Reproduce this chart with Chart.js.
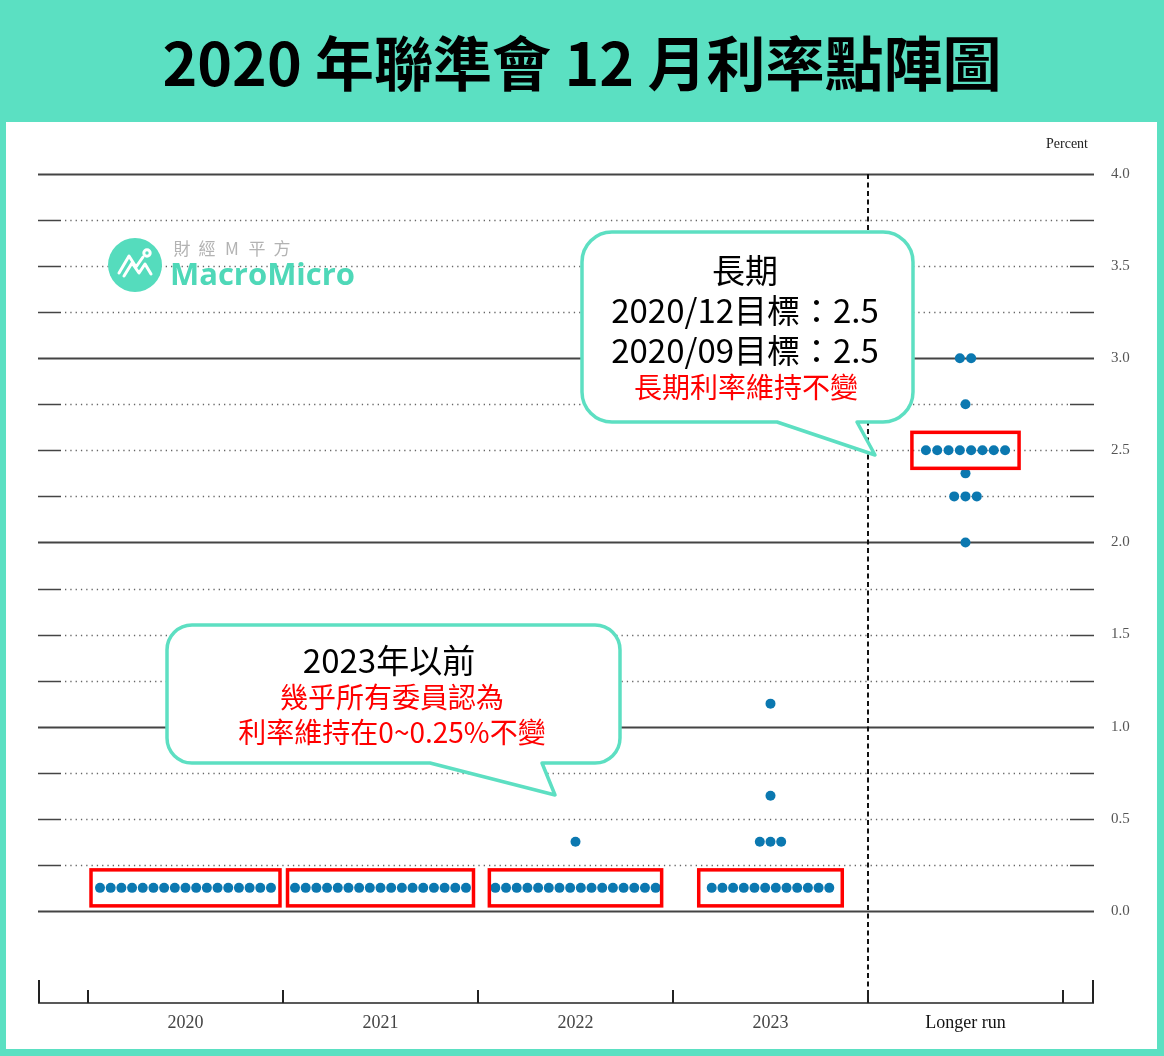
<!DOCTYPE html>
<html>
<head>
<meta charset="utf-8">
<script src="https://cdn.jsdelivr.net/npm/chart.js@4.4.0/dist/chart.umd.min.js"></script>
<style>
  html, body { margin: 0; padding: 0; }
  body { width: 1164px; height: 1056px; background: #5be0c2; position: relative; overflow: hidden; }
  #title {
    position: absolute; left: 0; top: 0; width: 1164px; height: 122px;
    font-family: "Noto Sans CJK TC", "Noto Sans", sans-serif; font-weight: 700;
    font-size: 59px; line-height: 122px; text-align: center; color: #000;
  }
  #panel { position: absolute; left: 6px; top: 122px; width: 1151px; height: 927px; background: #fff; }
  #panel canvas { display: block; }
</style>
</head>
<body>
<div id="title">2020 年聯準會 12 月利率點陣圖</div>
<div id="panel"><canvas id="dotChart" width="1151" height="927"></canvas></div>
<script>
// 점도표 데이터 (각 연도별 금리 수준과 위원 수)
const categories = ['2020', '2021', '2022', '2023', 'Longer run'];
const rateLevels = [
  [0.125],
  [0.125],
  [0.125, 0.375],
  [0.125, 0.375, 0.625, 1.125],
  [2.0, 2.25, 2.375, 2.5, 2.75, 3.0]
];
const dotCounts = [
  [17],
  [17],
  [16, 1],
  [12, 3, 1, 1],
  [1, 3, 1, 8, 1, 2]
];
const yTickValues = [0, 0.5, 1.0, 1.5, 2.0, 2.5, 3.0, 3.5, 4.0];

// 점 간격 (x축 단위)
const dotGap = [0.0548, 0.0548, 0.0548, 0.0548, 0.058];

const points = [];
categories.forEach((cat, i) => {
  rateLevels[i].forEach((rate, j) => {
    const n = dotCounts[i][j];
    for (let k = 0; k < n; k++) {
      points.push({ x: i + (k - (n - 1) / 2) * dotGap[i], y: rate });
    }
  });
});

const TEAL = '#5ddfc2';
const DOT = '#0b78b0';

// 빨간 박스 (카테고리, 금리, 바깥 점 중심에서의 여백)
const redBoxes = [
  { cat: 0, rate: 0.125, pad: 9 },
  { cat: 1, rate: 0.125, pad: 7.5 },
  { cat: 2, rate: 0.125, pad: 6 },
  { cat: 3, rate: 0.125, pad: 13 },
  { cat: 4, rate: 2.5, pad: 14 }
];

function roundBubble(ctx, x, y, w, h, r, t1, t2, tipX, tipY) {
  ctx.beginPath();
  ctx.moveTo(x + r, y);
  ctx.lineTo(x + w - r, y);
  ctx.arcTo(x + w, y, x + w, y + r, r);
  ctx.lineTo(x + w, y + h - r);
  ctx.arcTo(x + w, y + h, x + w - r, y + h, r);
  ctx.lineTo(t2, y + h);
  ctx.lineTo(tipX, tipY);
  ctx.lineTo(t1, y + h);
  ctx.lineTo(x + r, y + h);
  ctx.arcTo(x, y + h, x, y + h - r, r);
  ctx.lineTo(x, y + r);
  ctx.arcTo(x, y, x + r, y, r);
  ctx.closePath();
  ctx.fillStyle = '#fff';
  ctx.fill();
  ctx.lineWidth = 3.5;
  ctx.strokeStyle = TEAL;
  ctx.stroke();
}

const backdropPlugin = {
  id: 'backdrop',
  beforeDatasetsDraw(chart) {
    const { ctx, chartArea: a, scales: { x, y } } = chart;
    ctx.save();
    // 가로 격자선
    y.ticks.forEach(t => {
      if (t.value < 0) return;
      const py = Math.round(y.getPixelForValue(t.value)) + 0.5;
      const whole = Math.abs(t.value - Math.round(t.value)) < 1e-6;
      ctx.setLineDash([]);
      ctx.strokeStyle = '#444';
      ctx.lineWidth = whole ? 1.8 : 1.4;
      ctx.beginPath();
      ctx.moveTo(a.left, py); ctx.lineTo(a.left + 23, py);
      ctx.moveTo(a.right - 24, py); ctx.lineTo(a.right, py);
      ctx.stroke();
      ctx.beginPath();
      if (whole) {
        ctx.moveTo(a.left + 23, py); ctx.lineTo(a.right - 24, py);
      } else {
        ctx.setLineDash([1.3, 4]);
        ctx.strokeStyle = '#666';
        ctx.lineWidth = 1.3;
        ctx.moveTo(a.left + 27, py); ctx.lineTo(a.right - 26, py);
      }
      ctx.stroke();
    });
    // 장기 구분 점선
    const dx = x.getPixelForValue(categories.length - 1.5);
    ctx.setLineDash([5, 3.5]);
    ctx.strokeStyle = '#111';
    ctx.lineWidth = 2;
    ctx.beginPath();
    ctx.moveTo(dx, a.top); ctx.lineTo(dx, a.bottom);
    ctx.stroke();
    // 하단 축
    ctx.setLineDash([]);
    ctx.strokeStyle = '#222';
    ctx.lineWidth = 1.6;
    ctx.beginPath();
    ctx.moveTo(a.left, a.bottom); ctx.lineTo(a.right, a.bottom);
    ctx.stroke();
    ctx.lineWidth = 2;
    ctx.beginPath();
    for (let i = 0; i <= categories.length; i++) {
      const px = x.getPixelForValue(i - 0.5);
      ctx.moveTo(px, a.bottom); ctx.lineTo(px, a.bottom - 13);
    }
    ctx.moveTo(a.left + 1, a.bottom); ctx.lineTo(a.left + 1, a.bottom - 23);
    ctx.moveTo(a.right - 1, a.bottom); ctx.lineTo(a.right - 1, a.bottom - 23);
    ctx.stroke();
    // Percent
    ctx.fillStyle = '#222';
    ctx.font = '14px "Liberation Serif", serif';
    ctx.textAlign = 'center';
    ctx.textBaseline = 'middle';
    ctx.fillText('Percent', a.right - 27, 22);
    ctx.restore();
  },
  afterDatasetsDraw(chart) {
    const { ctx, scales: { x, y } } = chart;
    ctx.save();
    ctx.strokeStyle = '#ff0000';
    ctx.lineWidth = 3.5;
    redBoxes.forEach(b => {
      const j = rateLevels[b.cat].indexOf(b.rate);
      const n = dotCounts[b.cat][j];
      const half = (n - 1) / 2 * dotGap[b.cat];
      const x0 = x.getPixelForValue(b.cat - half) - b.pad;
      const x1 = x.getPixelForValue(b.cat + half) + b.pad;
      const cy = y.getPixelForValue(b.rate);
      ctx.strokeRect(x0, cy - 18, x1 - x0, 36);
    });
    ctx.restore();
  },
  afterDraw(chart) {
    const { ctx } = chart;
    ctx.save();
    // 로고
    ctx.fillStyle = '#55dcbd';
    ctx.beginPath();
    ctx.arc(129, 143, 27, 0, Math.PI * 2);
    ctx.fill();
    ctx.strokeStyle = '#fff';
    ctx.lineWidth = 3;
    ctx.lineJoin = 'round';
    ctx.lineCap = 'round';
    ctx.beginPath();
    ctx.moveTo(113, 151); ctx.lineTo(123, 134); ctx.lineTo(130, 145); ctx.lineTo(137, 135);
    ctx.moveTo(118, 154); ctx.lineTo(126, 141); ctx.lineTo(133, 151); ctx.lineTo(139, 142); ctx.lineTo(145, 152);
    ctx.stroke();
    ctx.beginPath();
    ctx.arc(141, 131, 3.2, 0, Math.PI * 2);
    ctx.stroke();
    ctx.fillStyle = '#b3b3b3';
    ctx.font = '17px "Noto Sans CJK TC", sans-serif';
    ctx.textAlign = 'center';
    ctx.textBaseline = 'middle';
    ['財', '經', 'M', '平', '方'].forEach((c, i) => ctx.fillText(c, 176 + i * 25, 127));
    ctx.font = 'bold 30px "Open Sans", sans-serif';
    const w = ctx.measureText('MacroMicro').width;
    ctx.save();
    ctx.translate(164, 154);
    ctx.scale(185 / w, 1);
    ctx.textAlign = 'left';
    ctx.fillStyle = '#4fd8b8';
    ctx.fillText('MacroMicro', 0, 0);
    ctx.restore();

    // 말풍선 1 (장기)
    roundBubble(ctx, 576, 110, 331, 190, 30, 771, 851, 869, 333);
    ctx.textAlign = 'center';
    ctx.textBaseline = 'middle';
    ctx.fillStyle = '#000';
    ctx.font = '33px "Noto Sans CJK TC", sans-serif';
    ctx.fillText('長期', 739, 148);
    ctx.fillText('2020/12目標：2.5', 739, 188);
    ctx.fillText('2020/09目標：2.5', 739, 228);
    ctx.fillStyle = '#ff0000';
    ctx.font = '28px "Noto Sans CJK TC", sans-serif';
    ctx.fillText('長期利率維持不變', 740, 265);

    // 말풍선 2 (2023년 이전)
    roundBubble(ctx, 161, 503, 453, 138, 25, 424, 536, 549, 673);
    ctx.fillStyle = '#000';
    ctx.font = '33px "Noto Sans CJK TC", sans-serif';
    ctx.fillText('2023年以前', 383, 538);
    ctx.fillStyle = '#ff0000';
    ctx.font = '28px "Noto Sans CJK TC", sans-serif';
    ctx.fillText('幾乎所有委員認為', 386, 575);
    ctx.fillText('利率維持在0~0.25%不變', 386, 610);
    ctx.restore();
  }
};

new Chart(document.getElementById('dotChart').getContext('2d'), {
  type: 'scatter',
  data: {
    datasets: [{
      label: 'Dots',
      data: points,
      pointRadius: 5,
      pointHoverRadius: 5,
      pointBackgroundColor: DOT,
      pointBorderWidth: 0,
      showLine: false
    }]
  },
  options: {
    responsive: false,
    animation: false,
    events: [],
    layout: { padding: { left: 32, top: 52, right: 0, bottom: 0 } },
    plugins: { legend: { display: false }, tooltip: { enabled: false } },
    scales: {
      x: {
        type: 'linear',
        min: -0.7564,
        max: 4.659,
        grid: { display: false, drawTicks: false },
        border: { display: false },
        afterBuildTicks: (scale) => { scale.ticks = categories.map((c, i) => ({ value: i })); },
        afterFit: (scale) => { scale.height = 46; },
        ticks: {
          autoSkip: false,
          maxRotation: 0,
          padding: 9,
          font: { family: '"Liberation Serif", serif', size: 18 },
          color: (c) => c.index === categories.length - 1 ? '#111' : '#444',
          callback: (v) => categories[v]
        }
      },
      y: {
        position: 'right',
        min: -0.5,
        max: 4,
        grid: { display: false, drawTicks: false },
        border: { display: false },
        afterFit: (scale) => { scale.width = 63; },
        ticks: {
          stepSize: 0.25,
          padding: 17,
          font: { family: '"Liberation Serif", serif', size: 15 },
          color: '#555',
          callback: (v) => yTickValues.some(t => Math.abs(t - v) < 1e-6) ? v.toFixed(1) : ''
        }
      }
    }
  },
  plugins: [backdropPlugin]
});
</script>
</body>
</html>
